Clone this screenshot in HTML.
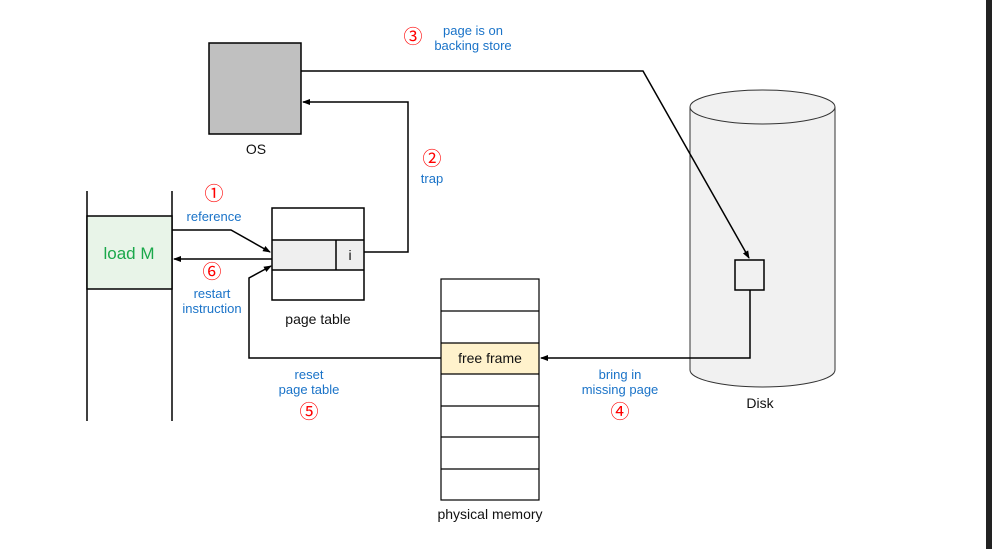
<!DOCTYPE html>
<html><head><style>
body{margin:0;background:#fff;}
svg{display:block;font-family:"Liberation Sans","Noto Sans CJK KR",sans-serif;}
.b{fill:#1a73c8;font-size:13px;text-anchor:middle;}
.r{fill:#ff0000;font-size:19px;text-anchor:middle;font-family:"Noto Sans CJK KR","NanumGothic",sans-serif;}
.k{fill:#111;font-size:14px;text-anchor:middle;}
</style></head><body>
<svg width="992" height="549" viewBox="0 0 992 549">
<defs><marker id="a" markerWidth="8" markerHeight="8" refX="7" refY="4" orient="auto" markerUnits="userSpaceOnUse"><path d="M0,1 L8,4 L0,7 z" fill="#000"/></marker></defs>
<rect x="986" y="0" width="6" height="549" fill="#222"/>
<path d="M690,107 L690,370 A72.5,17 0 0 0 835,370 L835,107" fill="#f1f1f1" stroke="#333" stroke-width="1"/>
<ellipse cx="762.5" cy="107" rx="72.5" ry="17" fill="#f1f1f1" stroke="#333" stroke-width="1"/>
<rect x="735" y="260" width="29" height="30" fill="#f1f1f1" stroke="#000" stroke-width="1.5"/>
<text x="760" y="408" class="k">Disk</text>
<rect x="209" y="43" width="92" height="91" fill="#c0c0c0" stroke="#000" stroke-width="1.5"/>
<text x="256" y="154" class="k">OS</text>
<polyline points="301,71 643,71 749,258" fill="none" stroke="#000" stroke-width="1.5" marker-end="url(#a)"/>
<polyline points="364,252 408,252 408,102 303,102" fill="none" stroke="#000" stroke-width="1.5" marker-end="url(#a)"/>
<line x1="87" y1="191" x2="87" y2="421" stroke="#000" stroke-width="1.5"/>
<line x1="172" y1="191" x2="172" y2="421" stroke="#000" stroke-width="1.5"/>
<rect x="87" y="216" width="85" height="73" fill="#e8f4e8" stroke="#000" stroke-width="1.5"/>
<text x="129" y="259" style="fill:#1aa84a;font-size:17px;text-anchor:middle">load M</text>
<rect x="272" y="240" width="92" height="30" fill="#efefef"/>
<rect x="272" y="208" width="92" height="92" fill="none" stroke="#000" stroke-width="1.5"/>
<line x1="272" y1="240" x2="364" y2="240" stroke="#000" stroke-width="1.5"/>
<line x1="272" y1="270" x2="364" y2="270" stroke="#000" stroke-width="1.5"/>
<line x1="336" y1="240" x2="336" y2="270" stroke="#000" stroke-width="1.5"/>
<text x="350" y="260" class="k">i</text>
<text x="318" y="324" class="k">page table</text>
<polyline points="172,230 231,230 270,252" fill="none" stroke="#000" stroke-width="1.5" marker-end="url(#a)"/>
<line x1="272" y1="259" x2="174" y2="259" stroke="#000" stroke-width="1.5" marker-end="url(#a)"/>
<polyline points="441,358 249,358 249,278 271,266" fill="none" stroke="#000" stroke-width="1.5" marker-end="url(#a)"/>
<rect x="441" y="343" width="98" height="31" fill="#fff2cc"/>
<rect x="441" y="279" width="98" height="221" fill="none" stroke="#000" stroke-width="1.2"/>
<g stroke="#000" stroke-width="1.2">
<line x1="441" y1="311" x2="539" y2="311"/><line x1="441" y1="343" x2="539" y2="343"/>
<line x1="441" y1="374" x2="539" y2="374"/><line x1="441" y1="406" x2="539" y2="406"/>
<line x1="441" y1="437" x2="539" y2="437"/><line x1="441" y1="469" x2="539" y2="469"/>
</g>
<text x="490" y="363" class="k">free frame</text>
<text x="490" y="519" class="k">physical memory</text>
<polyline points="750,290 750,358 541,358" fill="none" stroke="#000" stroke-width="1.5" marker-end="url(#a)"/>
<text x="214" y="200" class="r">①</text><text x="214" y="221" class="b">reference</text>
<text x="432" y="165" class="r">②</text><text x="432" y="183" class="b">trap</text>
<text x="413" y="43" class="r">③</text><text x="473" y="35" class="b">page is on</text><text x="473" y="50" class="b">backing store</text>
<text x="212" y="278" class="r">⑥</text><text x="212" y="298" class="b">restart</text><text x="212" y="313" class="b">instruction</text>
<text x="309" y="379" class="b">reset</text><text x="309" y="394" class="b">page table</text><text x="309" y="418" class="r">⑤</text>
<text x="620" y="379" class="b">bring in</text><text x="620" y="394" class="b">missing page</text><text x="620" y="418" class="r">④</text>
</svg>
</body></html>
